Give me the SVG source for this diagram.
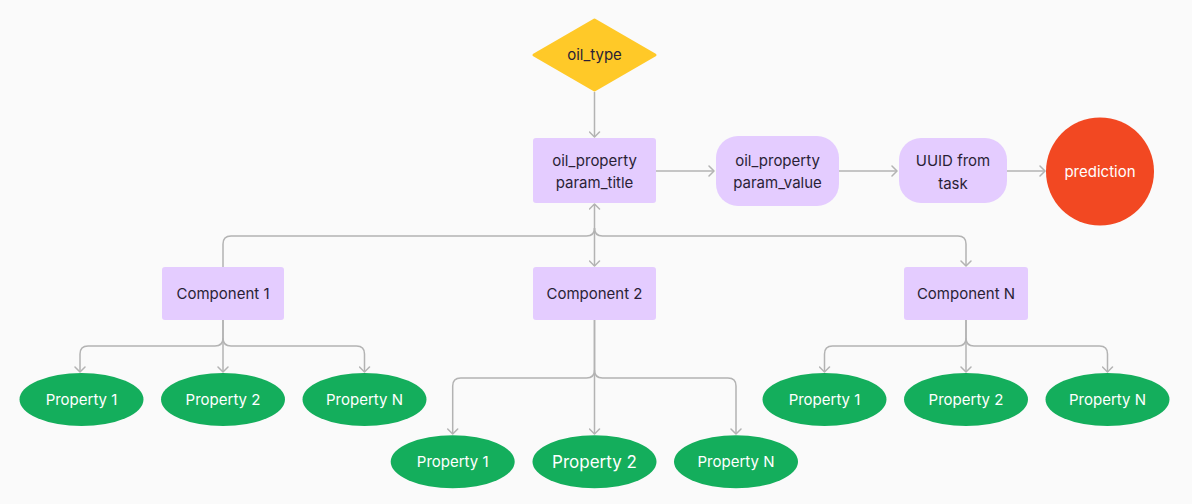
<svg xmlns="http://www.w3.org/2000/svg" width="1192" height="504" viewBox="0 0 1192 504">
<defs>
<marker id="arr" viewBox="0 0 12 12" refX="11" refY="6" markerWidth="12" markerHeight="12" markerUnits="userSpaceOnUse" orient="auto">
<path d="M6,1 L11,6 L6,11" fill="none" stroke="#B3B3B3" stroke-width="1.5" stroke-linecap="round" stroke-linejoin="round"/>
</marker>
</defs>
<style>
.bg{fill:#FAFAFA}
.con path{fill:none;stroke:#B3B3B3;stroke-width:1.5}
.arr{marker-end:url(#arr)}
.purple{fill:#E4CCFF}
.green{fill:#14AE5C}
.t{font-family:Inter,"Noto Sans","Liberation Sans",sans-serif;font-size:15px;text-anchor:middle}
.dark{fill:#2A1F36}
.white{fill:#FFFFFF}
</style>
<rect class="bg" x="0" y="0" width="1192" height="504"/>
<g id="connectors" class="con">
<path class="arr" d="M594.5,92 V137"/>
<path class="arr" d="M656,171 H714"/>
<path class="arr" d="M839,171 H897"/>
<path class="arr" d="M1007,171 H1045"/>
<path class="arr" d="M223,267 V244 Q223,236 231,236 H586.5 Q594.5,236 594.5,228 V204"/>
<path class="arr" d="M594.5,228 V266"/>
<path class="arr" d="M594.5,228 Q594.5,236 602.5,236 H958 Q966,236 966,244 V266"/>
<path class="arr" d="M223,320 V338 Q223,346 215,346 H88 Q80,346 80,354 V372"/>
<path class="arr" d="M223,320 V372"/>
<path class="arr" d="M223,338 Q223,346 231,346 H356.5 Q364.5,346 364.5,354 V372"/>
<path class="arr" d="M594.5,320 V370 Q594.5,378 586.5,378 H460.7 Q452.7,378 452.7,386 V434"/>
<path class="arr" d="M594.5,320 V434"/>
<path class="arr" d="M594.5,370 Q594.5,378 602.5,378 H728 Q736,378 736,386 V434"/>
<path class="arr" d="M966,320 V338 Q966,346 958,346 H832.5 Q824.5,346 824.5,354 V372"/>
<path class="arr" d="M966,320 V372"/>
<path class="arr" d="M966,338 Q966,346 974,346 H1099.5 Q1107.5,346 1107.5,354 V372"/>
</g>
<g id="oil_type">
<path d="M594.5,20 L655,55 L594.5,90 L534,55 Z" fill="#FFC928" stroke="#FFC928" stroke-width="3" stroke-linejoin="round"/>
<text class="t dark" x="594.5" y="60" fill="#1E1E1E">oil_type</text>
</g>
<g id="param_title">
<rect class="purple" x="533" y="138" width="123" height="65" rx="3"/>
<text class="t dark" x="594.5" y="166">oil_property</text>
<text class="t dark" x="594.5" y="188">param_title</text>
</g>
<g id="param_value">
<rect class="purple" x="716" y="136" width="123" height="70" rx="22"/>
<text class="t dark" x="777.5" y="166">oil_property</text>
<text class="t dark" x="777.5" y="188">param_value</text>
</g>
<g id="uuid">
<rect class="purple" x="899" y="138" width="108" height="65" rx="22"/>
<text class="t dark" x="953" y="165.5">UUID from</text>
<text class="t dark" x="953" y="188.5">task</text>
</g>
<g id="prediction">
<circle cx="1100" cy="171.5" r="54" fill="#F24822"/>
<text class="t white" x="1100" y="176.5">prediction</text>
</g>
<g id="component1">
<rect class="purple" x="162" y="267" width="122" height="53" rx="3"/>
<text class="t dark" x="223" y="299">Component 1</text>
</g>
<g id="component2">
<rect class="purple" x="533" y="267" width="123" height="53" rx="3"/>
<text class="t dark" x="594.5" y="299">Component 2</text>
</g>
<g id="componentN">
<rect class="purple" x="904" y="267" width="124" height="53" rx="3"/>
<text class="t dark" x="966" y="299">Component N</text>
</g>
<g id="c1p1"><ellipse class="green" cx="81.5" cy="399.5" rx="62" ry="26.5"/><text class="t white" x="81.5" y="405">Property 1</text></g>
<g id="c1p2"><ellipse class="green" cx="223" cy="399.5" rx="62" ry="26.5"/><text class="t white" x="223" y="405">Property 2</text></g>
<g id="c1pN"><ellipse class="green" cx="364.5" cy="399.5" rx="62" ry="26.5"/><text class="t white" x="364.5" y="405">Property N</text></g>
<g id="c2p1"><ellipse class="green" cx="452.7" cy="461.7" rx="62" ry="26.5"/><text class="t white" x="452.7" y="467">Property 1</text></g>
<g id="c2p2"><ellipse class="green" cx="594.5" cy="461.7" rx="62" ry="26.5"/><text class="t white" x="594.5" y="468" style="font-size:17px">Property 2</text></g>
<g id="c2pN"><ellipse class="green" cx="736" cy="461.7" rx="62" ry="26.5"/><text class="t white" x="736" y="467">Property N</text></g>
<g id="cNp1"><ellipse class="green" cx="824.5" cy="399.5" rx="62" ry="26.5"/><text class="t white" x="824.5" y="405">Property 1</text></g>
<g id="cNp2"><ellipse class="green" cx="966" cy="399.5" rx="62" ry="26.5"/><text class="t white" x="966" y="405">Property 2</text></g>
<g id="cNpN"><ellipse class="green" cx="1107.5" cy="399.5" rx="62" ry="26.5"/><text class="t white" x="1107.5" y="405">Property N</text></g>
</svg>
